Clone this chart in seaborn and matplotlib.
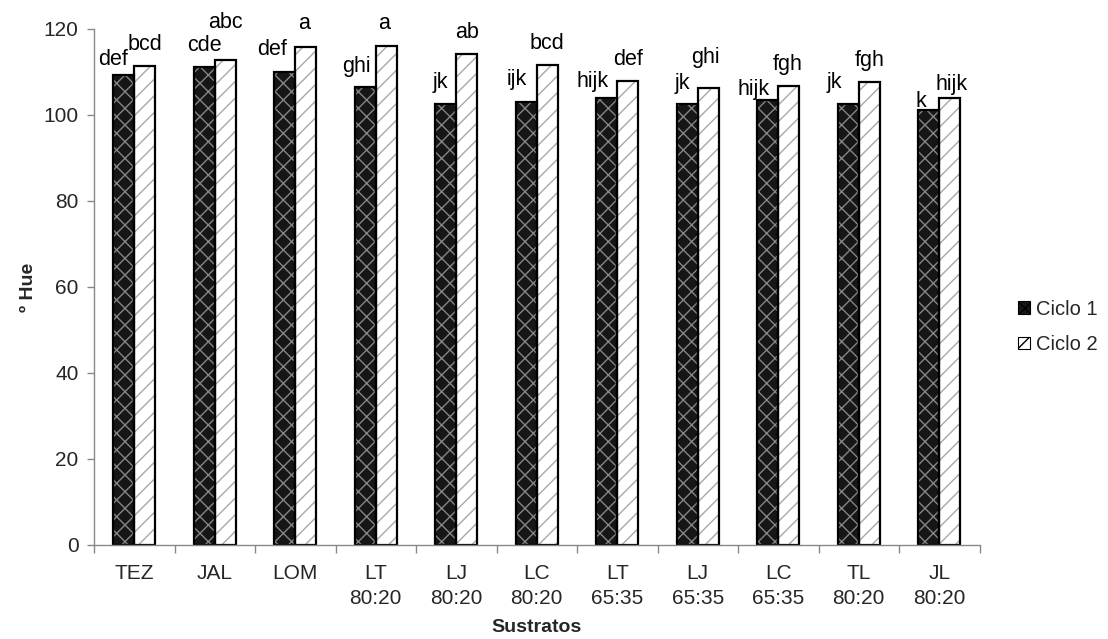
import matplotlib
matplotlib.use("Agg")
import matplotlib.pyplot as plt
import seaborn as sns
import pandas as pd
from matplotlib.patches import Rectangle, Patch
from matplotlib.ticker import FixedLocator

# Substrates and mean hue angle per production cycle
sustratos = ["TEZ", "JAL", "LOM", "LT\n80:20", "LJ\n80:20", "LC\n80:20",
             "LT\n65:35", "LJ\n65:35", "LC\n65:35", "TL\n80:20", "JL\n80:20"]
ciclo1 = [109.2, 111.2, 110.1, 106.6, 102.6, 103.0, 103.9, 102.6, 103.4, 102.6, 101.2]
ciclo2 = [111.5, 112.9, 115.9, 116.1, 114.1, 111.6, 107.9, 106.2, 106.8, 107.7, 104.0]
# Tukey grouping letters
letras1 = ["def", "cde", "def", "ghi", "jk", "ijk", "hijk", "jk", "hijk", "jk", "k"]
letras2 = ["bcd", "abc", "a", "a", "ab", "bcd", "def", "ghi", "fgh", "fgh", "hijk"]
ciclos = ["Ciclo 1", "Ciclo 2"]

# Letter placement relative to each bar top (pixels)
dx1 = [-11, 0, -13, -9, -5, -10, -14, -5, -14, -14, -8]
dy1 = [10, 16, 17, 15, 16, 17, 11, 15, 5, 16, 3]
dx2 = [0, 0, -2, -2, 0, 0, 0, -3, -1, 0, 2]
dy2 = [16, 32, 18, 17, 16, 16, 16, 25, 16, 16, 8]

df = pd.DataFrame({
    "Sustrato": sustratos * 2,
    "Hue": ciclo1 + ciclo2,
    "Ciclo": [ciclos[0]] * len(sustratos) + [ciclos[1]] * len(sustratos),
})

sns.set_style("white")
plt.rcParams["font.family"] = ["Liberation Sans", "DejaVu Sans"]
plt.rcParams["hatch.linewidth"] = 1.0

fig = plt.figure(figsize=(11.08, 6.39), dpi=100)
ax = fig.add_axes([94 / 1108, 1 - 545 / 639, (979.5 - 94) / 1108, (545 - 29) / 639])

sns.barplot(data=df, x="Sustrato", y="Hue", hue="Ciclo", hue_order=ciclos,
            palette=["#141414", "white"], width=0.52, gap=0, linewidth=0,
            legend=False, ax=ax)

styles = [
    dict(face="#161616", hatch="xx", hcolor="#858585"),
    dict(face="white", hatch="//", hcolor="#a8a8a8"),
]
labels = [(letras1, dx1, dy1), (letras2, dx2, dy2)]
for cont, st, (let, dxs, dys) in zip(ax.containers, styles, labels):
    for bar, txt, dx, dy in zip(cont, let, dxs, dys):
        bar.set_facecolor(st["face"])
        bar.set_hatch(st["hatch"])
        bar.set_edgecolor(st["hcolor"])
        bar.set_linewidth(0)
        ax.add_patch(Rectangle((bar.get_x(), bar.get_y()), bar.get_width(),
                               bar.get_height(), fill=False, edgecolor="black",
                               linewidth=1.6, zorder=bar.get_zorder() + 0.1))
        ax.annotate(txt, (bar.get_x() + bar.get_width() / 2, bar.get_height()),
                    xytext=(dx, dy), textcoords="offset pixels",
                    ha="center", va="baseline", fontsize=15.5, color="black")

ax.set_ylim(0, 120)
ax.set_xlim(-0.5, len(sustratos) - 0.5)
ax.set_yticks(range(0, 121, 20))
ax.tick_params(axis="y", which="major", length=5, width=1, color="#888888",
               labelsize=15, pad=6, left=True)
ax.tick_params(axis="x", which="major", length=0, labelsize=15, pad=14)
for t in ax.get_xticklabels():
    t.set_linespacing(1.35)
ax.xaxis.set_minor_locator(FixedLocator([i - 0.5 for i in range(len(sustratos) + 1)]))
ax.tick_params(axis="x", which="minor", length=6, width=1, color="#888888", bottom=True)

for s in ["top", "right"]:
    ax.spines[s].set_visible(False)
for s in ["left", "bottom"]:
    ax.spines[s].set_color("#888888")
    ax.spines[s].set_linewidth(1)

ax.set_xlabel("Sustratos", fontsize=14, fontweight="bold", labelpad=8)
ax.set_ylabel("º Hue", fontsize=14, fontweight="bold", labelpad=5)

handles = [Patch(facecolor=st["face"], edgecolor="black", hatch=st["hatch"], linewidth=0.8)
           for st in styles]
fig.legend(handles, ciclos, loc="center left", bbox_to_anchor=(1018 / 1108, 1 - 327 / 639),
           frameon=False, fontsize=14.5, handlelength=0.6, handleheight=0.6,
           handletextpad=0.3, labelspacing=0.8, borderpad=0, borderaxespad=0)

fig.savefig("out.png", dpi=100)
